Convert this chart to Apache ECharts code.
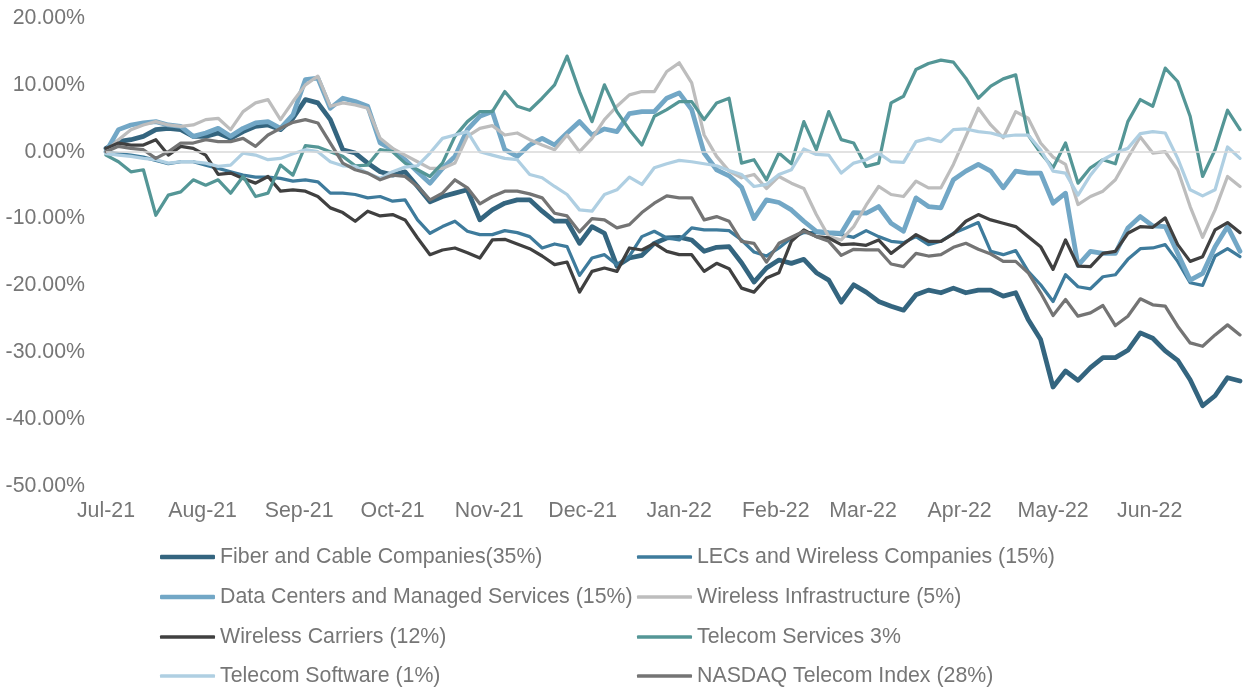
<!DOCTYPE html>
<html><head><meta charset="utf-8">
<script src="https://cdn.jsdelivr.net/npm/echarts@6/dist/echarts.min.js"></script>
<style>html,body{margin:0;padding:0;background:#fff}#c{width:1253px;height:689px}</style>
</head><body><div id="c"></div>
<script>
const dates = [
'2021-07-01','2021-07-05','2021-07-09','2021-07-13','2021-07-17','2021-07-21','2021-07-25','2021-07-29',
'2021-08-02','2021-08-06','2021-08-10','2021-08-14','2021-08-18','2021-08-22','2021-08-26','2021-08-30',
'2021-09-03','2021-09-07','2021-09-11','2021-09-15','2021-09-19','2021-09-23','2021-09-27',
'2021-10-01','2021-10-05','2021-10-09','2021-10-13','2021-10-17','2021-10-21','2021-10-25','2021-10-29',
'2021-11-02','2021-11-06','2021-11-10','2021-11-14','2021-11-18','2021-11-22','2021-11-26','2021-11-30',
'2021-12-04','2021-12-08','2021-12-12','2021-12-16','2021-12-20','2021-12-24','2021-12-28',
'2022-01-01','2022-01-05','2022-01-09','2022-01-13','2022-01-17','2022-01-21','2022-01-25','2022-01-29',
'2022-02-02','2022-02-06','2022-02-10','2022-02-14','2022-02-18','2022-02-22','2022-02-26',
'2022-03-02','2022-03-06','2022-03-10','2022-03-14','2022-03-18','2022-03-22','2022-03-26','2022-03-30',
'2022-04-03','2022-04-07','2022-04-11','2022-04-15','2022-04-19','2022-04-23','2022-04-27',
'2022-05-01','2022-05-05','2022-05-09','2022-05-13','2022-05-17','2022-05-21','2022-05-25','2022-05-29',
'2022-06-02','2022-06-06','2022-06-10','2022-06-14','2022-06-18','2022-06-22','2022-06-26','2022-06-30'
];
const monthLabels = ['Jul-21','Aug-21','Sep-21','Oct-21','Nov-21','Dec-21','Jan-22','Feb-22','Mar-22','Apr-22','May-22','Jun-22'];
const yTicks = {min: -50, max: 20, step: 10};

const fiber = [0.5,1.5,1.8,2.3,3.3,3.5,3.3,2.3,2.3,2.8,2,3,3.8,4,3.3,5,
7.8,7.3,4.8,0.3,-0.2,-1.7,-3,-3.5,-3,-5.2,-7.5,-6.7,-6.2,-5.7,-10.2,
-8.7,-7.7,-7.2,-7.2,-8.9,-10.4,-10.4,-13.7,-11.2,-12.2,-17.1,-15.9,-15.5,-13.7,-12.9,-12.8,
-13.2,-14.9,-14.3,-14.2,-16.6,-19.5,-17.4,-16.2,-16.7,-16.1,-18.1,-19.2,-22.5,-19.9,-21,
-22.4,-23.1,-23.7,-21.4,-20.7,-21.1,-20.4,-21.1,-20.7,-20.7,-21.6,-21.1,-25.1,-28.1,-35.2,
-32.8,-34.2,-32.3,-30.8,-30.8,-29.7,-27.1,-27.9,-29.8,-31.2,-34.1,-38,-36.5,-33.8,-34.3];

const lecs = [0,-0.3,-0.5,-0.8,-1.3,-1.8,-1.5,-1.5,-2,-2.5,-3,-3.5,-3.8,-3.8,-4,-4.4,
-4.2,-4.5,-6.2,-6.2,-6.4,-6.9,-6.7,-7.4,-7.2,-10.2,-12.2,-11.2,-10.4,-11.9,-12.4,
-12.4,-11.8,-12.1,-12.7,-14.4,-13.8,-14.2,-18.5,-15.9,-15.4,-16.9,-15.6,-12.7,-11.9,-12.9,-13.2,
-11.4,-11.7,-11.7,-11.8,-13.2,-15,-15.6,-14.4,-12.9,-12.1,-12.1,-12.2,-12.4,-12.8,-11.8,
-12.7,-13.4,-13.6,-12.7,-13.9,-13.4,-12.2,-11.4,-10.6,-14.9,-15.4,-14.8,-17.9,-19.9,-22.4,
-18.4,-20.2,-20.5,-18.7,-18.4,-16.1,-14.5,-14.4,-13.9,-16.4,-19.6,-20,-15.6,-14.5,-15.7];

const dataCenters = [0,3.3,4,4.3,4.5,4,3.8,2.3,2.8,3.5,2.3,3.5,4.3,4.5,3.5,5.5,
10.8,11,6.5,8,7.5,6.8,1.3,0.3,-1.2,-3,-4.7,-2.5,-0.7,3.3,5.3,
6,0.3,-0.7,1,2,1,2.8,4.5,2.5,3.4,3,5.7,6,6,8,8.8,
6.3,-0.2,-2.7,-3.6,-5.3,-10,-7.2,-7.6,-8.7,-10.4,-11.9,-12.1,-12.2,-9.1,-9.2,
-8.2,-10.7,-11.9,-6.9,-8.2,-8.4,-4.2,-2.9,-1.9,-2.9,-5.4,-2.9,-3.2,-3.2,-7.7,
-6.2,-17,-14.9,-15.2,-15.2,-11.4,-9.7,-11.1,-11.2,-15.2,-19.2,-18.2,-14.2,-11.2,-14.9];

const wirelessInfra = [0,1.8,3.3,4,4.5,4,3.8,4,4.8,5,3.3,6,7.3,7.8,4.8,7.5,
10,11.3,6.8,7.3,7,6.5,2,0.5,-0.5,-1.5,-2.5,-2.5,-1.7,2.3,3.5,
3.9,2.5,2.8,1.8,1,0.3,2.5,0,2,4.8,6.8,8.5,9,9,12,13.3,
10.3,2.5,-0.7,-2.9,-3.9,-3.4,-5.5,-3.7,-4.7,-5.5,-9.4,-12.7,-13.2,-11.2,-8,
-5.2,-6.4,-6.7,-4.4,-5.4,-5.4,-1.9,2.3,6.5,4,2.1,6,5,1.3,-0.8,
-1.9,-7.9,-6.7,-5.9,-4.2,-0.9,2.2,-0.2,0,-2.7,-8.2,-12.8,-8.7,-3.7,-5.2];

const wirelessCarriers = [0.5,1.3,1,1,1.8,-0.5,0.8,0.5,-0.5,-3.4,-3.2,-4,-4.7,-3.7,-5.9,-5.7,
-5.9,-6.7,-8.4,-9.1,-10.4,-8.9,-9.6,-9.4,-10.2,-12.9,-15.4,-14.7,-14.4,-15.1,-15.9,
-13.2,-13.1,-13.8,-14.5,-15.6,-16.9,-16.5,-21,-17.9,-17.4,-17.9,-14.4,-14.7,-13.7,-14.9,-15.4,
-15.4,-17.9,-16.7,-17.5,-20.4,-21,-18.9,-18.1,-13.4,-11.7,-12.7,-12.9,-13.9,-13.8,-14,
-13.2,-15.2,-13.8,-12.4,-13.4,-13.4,-12.3,-10.4,-9.4,-10.2,-10.7,-11.2,-12.7,-14.2,-17.6,
-13.2,-17.1,-17.2,-15.2,-14.9,-12.2,-11.2,-11.3,-9.9,-13.9,-16.4,-15.7,-11.7,-10.6,-12.1];

const telecomServices = [-0.5,-1.5,-3,-2.7,-9.5,-6.5,-6,-4.2,-5,-4.2,-6.2,-3.7,-6.7,-6.2,-2,-3.5,
0.9,0.7,0,-0.7,-2.1,-2,0.3,0,-1.7,-2.7,-3.7,-1.7,2.3,4.5,6,
6,9,6.8,6.2,8,10,14.3,9,4.5,10,6,3.3,1,5.3,6.3,7.5,
7.5,4.8,7.3,8,-1.7,-1.2,-4.2,-0.2,-1.8,4.5,0.3,6,1.8,1.3,-2.2,
-1.7,7.3,8.3,12.3,13.2,13.7,13.4,11,8,9.8,10.9,11.5,2.5,-0.2,-2.4,
1.3,-4.7,-2.4,-1.2,-1.8,4.5,7.8,6.8,12.5,10.5,5.3,-3.7,0.3,6.2,3.3];

const telecomSoftware = [-0.3,-0.5,-0.7,-1,-1.2,-1.7,-1.5,-1.5,-1.7,-2.2,-2,-0.2,-0.5,-1.2,-1,-0.3,
0.3,0,-1.5,-2.1,-2.2,-3.2,-4,-3,-2.3,-2.1,-0.2,2,2.5,3,0,
-0.5,-1,-1.2,-3.4,-3.9,-5.2,-6.4,-8.7,-8.9,-6.4,-5.7,-3.8,-4.9,-2.4,-1.8,-1.3,
-1.5,-1.8,-2.1,-2.8,-3.4,-5.2,-4.9,-3.4,-2.7,0.4,-0.4,-0.5,-3.2,-1.7,-1.2,
-0.2,-1.5,-1.6,1.5,2,1.5,3.3,3.4,3,2.8,2.3,2.5,2.5,0.3,-2.9,
-3.2,-6.5,-3.5,-1.2,-0.2,0.5,2.7,3,2.8,-1,-5.7,-6.6,-5.7,0.7,-1];

const nasdaq = [0,0.8,0.5,0.3,-1,0,1.3,1.3,1.8,1.5,1.5,2,0.8,2.5,3.5,4.4,
4.8,4.3,1.3,-1.7,-2.7,-3.2,-4.2,-3.5,-3.7,-5.2,-7.2,-6.2,-4.2,-5.4,-7.8,
-6.7,-5.9,-5.9,-6.3,-6.9,-9.2,-9.6,-12,-10,-10.2,-11.4,-10.9,-9.1,-7.7,-6.6,-6.9,
-6.9,-10.2,-9.7,-10.4,-13.4,-13.7,-16.5,-13.7,-12.8,-11.9,-12.7,-13.4,-15.5,-14.6,-14.7,
-14.7,-16.8,-17.2,-15.2,-15.6,-15.4,-14.3,-13.7,-14.6,-15.3,-16.4,-16.4,-18.1,-21.1,-24.5,
-22.1,-24.6,-24.1,-23,-26,-24.6,-22,-22.9,-23.1,-26.1,-28.6,-29.1,-27.4,-25.9,-27.4];

const names = [
  'Fiber and Cable Companies(35%)',
  'LECs and Wireless Companies (15%)',
  'Data Centers and Managed Services (15%)',
  'Wireless Infrastructure (5%)',
  'Wireless Carriers (12%)',
  'Telecom Services 3%',
  'Telecom Software (1%)',
  'NASDAQ Telecom Index (28%)'
];
const values = [fiber, lecs, dataCenters, wirelessInfra, wirelessCarriers, telecomServices, telecomSoftware, nasdaq];
const colors = ['#34657F','#3E7B9C','#72A7C6','#BDBDBD','#404040','#549696','#AFCFE2','#747474'];
const widths = [4.75, 3.25, 4.75, 3.25, 3.25, 3.25, 3.25, 3.25];

const FONT = '"Liberation Sans", Arial, sans-serif';
const TXT = '#767676';
const FS = 21.33;

const chart = echarts.init(document.getElementById('c'), null, {renderer: 'canvas'});

const series = [{
  type: 'line', name: '_zero', data: [], silent: true,
  markLine: {
    silent: true, symbol: ['none', 'none'], label: {show: false},
    lineStyle: {color: '#D9D9D9', width: 1.5, type: 'solid'},
    data: [{yAxis: 0}], animation: false
  }
}];
names.forEach((n, i) => {
  series.push({
    type: 'line', name: n,
    data: dates.map((d, k) => [d, values[i][k]]),
    symbol: 'none', showSymbol: false,
    lineStyle: {color: colors[i], width: widths[i], cap: 'round', join: 'round'},
    itemStyle: {color: colors[i]},
    emphasis: {disabled: true}
  });
});

// legend: two columns, four rows
const colLeft = [160, 637];
const rowCenter = [557, 597, 637, 676];
const legends = names.map((n, i) => {
  const col = i % 2, row = Math.floor(i / 2);
  const h = widths[i] > 4 ? 4.5 : 3.5;
  return {
    data: [{name: n, icon: 'roundRect'}],
    left: colLeft[col], top: rowCenter[row] - 10.5,
    padding: 0, itemWidth: 55, itemHeight: h,
    textStyle: {fontSize: FS, color: TXT, fontFamily: FONT},
    selectedMode: false
  };
});

chart.setOption({
  animation: false,
  backgroundColor: '#ffffff',
  textStyle: {fontFamily: FONT},
  grid: {left: 106, right: 13, top: 18, bottom: 203},
  xAxis: {
    type: 'time',
    min: +new Date(2021, 6, 1), max: +new Date(2022, 5, 30),
    splitNumber: 12, minInterval: 28 * 864e5, maxInterval: 31 * 864e5,
    axisLine: {show: false}, axisTick: {show: false}, splitLine: {show: false},
    axisLabel: {
      fontSize: FS, color: TXT, fontFamily: FONT, margin: 15, hideOverlap: false,
      formatter: function (v) {
        const d = new Date(v);
        const idx = (d.getFullYear() - 2021) * 12 + d.getMonth() - 6;
        return monthLabels[idx] || '';
      }
    }
  },
  yAxis: {
    type: 'value', min: yTicks.min, max: yTicks.max, interval: yTicks.step,
    axisLine: {show: false}, axisTick: {show: false}, splitLine: {show: false},
    axisLabel: {fontSize: FS, color: TXT, fontFamily: FONT, margin: 21,
      formatter: v => v.toFixed(2) + '%'}
  },
  legend: legends,
  series: series
});
</script></body></html>
